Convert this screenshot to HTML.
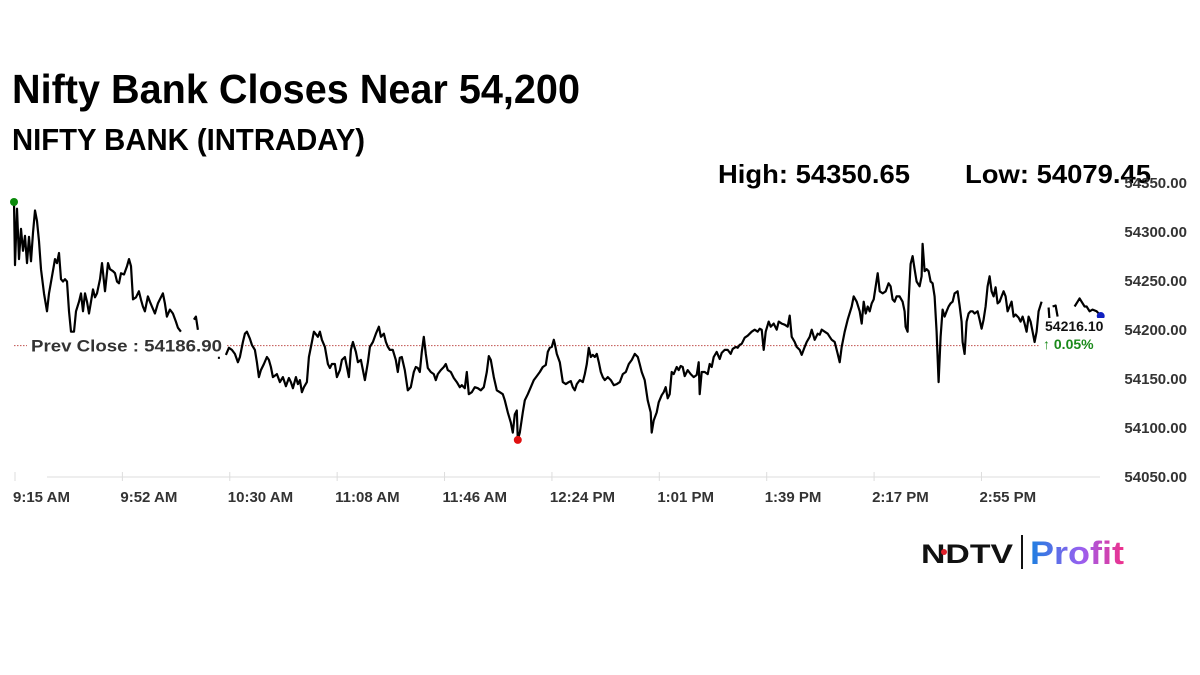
<!DOCTYPE html>
<html><head><meta charset="utf-8"><style>
html,body{margin:0;padding:0;background:#fff;}
svg{display:block;font-family:"Liberation Sans",sans-serif;}
</style></head><body>
<svg id="chart" width="1200" height="675" viewBox="0 0 1200 675" xmlns="http://www.w3.org/2000/svg">
<text x="12" y="103" font-size="41" font-weight="bold" textLength="568" lengthAdjust="spacingAndGlyphs">Nifty Bank Closes Near 54,200</text>
<text x="12" y="150" font-size="31" font-weight="bold" textLength="353" lengthAdjust="spacingAndGlyphs">NIFTY BANK (INTRADAY)</text>
<text x="718" y="183" font-size="26" font-weight="bold" textLength="192" lengthAdjust="spacingAndGlyphs">High: 54350.65</text>
<text x="965" y="183" font-size="26" font-weight="bold" textLength="186" lengthAdjust="spacingAndGlyphs">Low: 54079.45</text>
<g id="axes"></g>
<g id="plot"></g>
<g>
<text x="921" y="563" font-size="27" font-weight="bold" fill="#111" textLength="92" lengthAdjust="spacingAndGlyphs">NDTV</text>
<circle cx="944" cy="552" r="3" fill="#e0202a"/>
<rect x="1021" y="535" width="2" height="34" fill="#111"/>
<defs><linearGradient id="pg" x1="0" x2="1"><stop offset="0" stop-color="#1d7fe0"/><stop offset="0.55" stop-color="#9a5ff0"/><stop offset="1" stop-color="#f0308a"/></linearGradient></defs>
<text x="1030" y="564" font-size="32" font-weight="bold" fill="url(#pg)" textLength="94" lengthAdjust="spacingAndGlyphs">Profit</text>
</g>
</svg>
<script>
const timeTickLabels = ["9:15 AM","9:52 AM","10:30 AM","11:08 AM","11:46 AM","12:24 PM","1:01 PM","1:39 PM","2:17 PM","2:55 PM"];
const timeTickMinutes = [0,37.6,75.2,112.8,150.4,188,225.6,263.2,300.8,338.4];
const priceTickValues = [54350,54300,54250,54200,54150,54100,54050];
const priceTickLabels = ["54350.00","54300.00","54250.00","54200.00","54150.00","54100.00","54050.00"];
const prevClose = 54186.90;
const highValue = 54350.65;
const lowValue = 54079.45;
const lastValue = 54216.10;
const lastMinute = 380.5;
const changeLabel = "0.05%";
const seriesMinutes = [0,0.35,1.05,1.75,2.45,3.15,3.85,4.55,5.25,5.95,6.65,7.35,8.05,8.75,9.45,10.5,11.55,12.25,13.3,14.35,15.05,15.75,16.45,17.15,17.85,18.55,19.25,19.95,21,21.7,22.75,23.45,24.15,24.85,25.55,26.25,26.95,27.65,28.35,29.05,30.1,30.8,31.85,32.9,33.6,34.65,35.35,36.05,36.75,37.45,38.5,39.55,40.25,40.95,41.65,42.7,43.75,44.45,45.15,45.85,46.9,47.6,49.35,50.4,51.45,52.15,52.85,53.55,54.6,55.65,56.7,57.4,58.45,60,63,63.7,64.4,68,71.4,72.1,73,74.2,75.25,76.3,77.35,78.4,79.1,80.15,80.85,81.55,82.6,83.3,84.35,85.05,85.75,86.45,87.5,88.55,89.25,89.95,90.65,92.05,93.1,94.15,95.2,96.25,96.95,97.65,98.7,99.4,100.1,100.8,101.5,102.55,103.25,104.3,105,106.4,107.1,107.8,108.85,109.9,110.6,111.3,112.35,113.05,114.1,114.8,115.85,116.55,117.25,117.95,118.65,119.7,120.4,121.45,122.15,122.85,123.9,124.6,125.65,126.7,127.75,128.45,129.5,130.2,130.9,131.6,132.65,133.7,134.4,135.1,135.8,136.85,137.9,138.95,140,140.7,141.4,142.1,142.8,143.5,144.2,144.9,145.95,147,147.7,148.4,149.45,150.5,151.2,151.9,152.95,154,155.05,156.1,156.8,157.85,158.55,159.25,160.3,161.35,162.4,163.45,164.5,165.55,166.25,166.95,168,169.05,170.1,171.15,171.85,172.9,173.95,174.65,175.35,176.05,176.4,177.1,178.15,178.85,179.9,180.95,182,183.05,184.1,185.15,186.2,186.9,187.6,188.3,189,189.35,190.05,191.1,192.15,193.2,194.25,194.95,195.65,196.35,197.05,198.1,199.15,199.85,200.55,201.25,201.95,202.65,203.35,204.05,204.75,205.45,206.15,206.85,207.9,208.95,210,211.05,212.1,213.15,214.2,215.25,216.3,217.35,218.4,219.1,219.8,220.85,221.9,222.95,223.3,224,225.05,225.75,226.8,227.5,228.2,228.9,229.6,230.3,231,232.05,232.75,233.45,234.15,234.85,235.9,236.95,238,239.05,239.75,240.1,240.8,241.85,242.9,243.6,244.3,245,246.05,247.1,247.8,248.85,249.9,250.95,251.65,252.7,253.4,254.1,254.8,255.85,256.9,257.6,258.3,259.35,260.4,261.1,261.8,262.5,263.2,264.25,264.95,266,267.05,267.75,268.8,269.85,270.9,271.6,272.3,273.35,274.05,275.1,275.8,276.85,277.55,278.6,279.3,280.35,281.4,282.1,282.8,283.85,284.9,285.6,286.3,287.35,288.4,289.1,289.8,290.85,291.9,293.3,294,295.05,296.1,296.8,297.5,298.2,298.9,299.6,300.3,301,301.7,302.4,303.1,304.15,305.2,306.25,306.95,307.65,308.35,309.05,310.1,311.15,311.85,312.2,312.9,313.25,313.95,314.65,315.35,316.05,317.1,317.8,318.15,318.85,319.55,320.25,320.95,321.65,322.35,323.05,323.75,324.45,325.15,325.85,326.55,327.25,327.95,328.65,329.35,330.4,331.1,331.8,332.15,332.85,333.55,334.25,334.95,335.65,336.35,337.4,338.1,338.8,339.5,340.2,340.9,341.6,342.3,343,343.7,344.4,345.1,345.8,346.5,347.2,347.9,348.6,349.3,350,350.7,351.75,352.45,353.15,353.85,354.55,355.25,355.95,356.65,357.35,358.05,358.75,359.8,361,362.25,362.6,363.1,363.65,364.7,365.4,368,371.35,372.4,373.1,373.8,374.85,375.55,376.6,377.65,379.05,380.1];
const seriesValues = [54350.65,54278.7,54343,54285.6,54320,54295,54312,54281,54311,54283,54315.5,54341,54329,54306,54274,54246.5,54226,54246.5,54266,54285.6,54281,54292.5,54262.6,54260,54262.6,54260,54226,54202.8,54202.8,54226,54237,54246.5,54226,54246.5,54237,54223.5,54237,54251,54242,54246.5,54262.6,54281,54248.8,54281,54274,54271.8,54269.5,54260,54258,54269.5,54268,54277.5,54285.6,54277.5,54239.6,54242,54248.8,54239.6,54231.5,54226,54243,54237,54223.5,54235,54242,54246.5,54235,54220,54228,54223.5,54214.3,54207.4,54202.8,null,54216.6,54220,54205,null,54173,54173,null,54176.4,54184.4,54182,54177.5,54168,54174,54191,54200.5,54202.8,54194.8,54187.8,54182,54168,54151,54159,54166,54174,54170.6,54162.5,54151,54154.5,54145.3,54151,54140.7,54150,54145.3,54138.4,54151,54143,54147.6,54133.8,54139.5,54145.3,54174,54191,54202.8,54197,54202.8,54193.6,54185.5,54166,54161.4,54166,54166,54151,54159,54170.6,54174,54162.5,54151,54182,54191,54179.8,54168,54170.6,54159,54147.6,54168,54185.5,54191,54200.5,54208.5,54197,54200.5,54191,54185.5,54182,54182,54170.6,54156.8,54173,54174,54159,54136,54139.5,54156.8,54162.5,54161.4,54156.8,54179.8,54197,54177.5,54161.4,54156.8,54154.5,54147.6,54154.5,54159,54162.5,54166,54159,54156.8,54150,54145.3,54139.5,54141.8,54138.4,54156.8,54131.5,54133.8,54139.5,54138.4,54136,54139.5,54156.8,54175,54170.6,54151,54136,54133.8,54131.5,54124.6,54110.8,54099.3,54087.8,54108.5,54113,54079.45,54087.8,54110.8,54124.6,54131.5,54139.5,54147.6,54152.2,54156.8,54162.5,54164.8,54179.8,54184.4,54185.5,54193.6,54189,54177.5,54168,54145.3,54143,54145.3,54146.5,54139.5,54136,54143,54147.6,54145.3,54154.5,54166,54184.4,54174,54176.4,54174,54177.5,54168,54156.8,54151,54147.6,54151,54147.6,54141.8,54143,54145.3,54154.5,54156.8,54166,54170.6,54177.5,54174,54166,54156.8,54147.6,54124.6,54110.8,54087.8,54101.6,54110.8,54122.3,54130.4,54133.8,54139.5,54126.9,54131.5,54156.8,54154.5,54162.5,54159,54163.7,54162.5,54152.2,54159,54154.5,54151,54153.4,54168,54131.5,54156.8,54156.8,54154.5,54166,54162.5,54174,54179.8,54171.7,54178.6,54182,54182,54177.5,54183.2,54185.5,54184.4,54187.8,54189,54195.9,54198.2,54200.5,54202.8,54205.1,54202.8,54206.2,54205.1,54182,54202.8,54214.3,54208.5,54212,54205.1,54214.3,54212,54210.8,54208.5,54221.2,54197,54191,54185.5,54182,54176.4,54185.5,54191,54197,54205.1,54193.6,54200.5,54199.4,54205.1,54202.8,54200.5,54197,54193.6,54191,54177.5,54168,54185.5,54202.8,54216.6,54231.5,54243,54237,54226,54212,54237,54223.5,54231.5,54226,54235,54239.6,54254.5,54269.5,54248.8,54246.5,54248.8,54258,54254.5,54239.6,54237,54243,54243,54237,54226,54208.5,54202.8,54237,54280,54289,54274,54260,54254.5,54266,54303,54271.8,54274,54271.8,54260,54258,54243,54202.8,54145.3,54197,54228,54220,54226,54231.5,54235,54237,54246.5,54248.8,54232.7,54214.3,54191,54177.5,54214.3,54223.5,54226,54226,54223.5,54226,54216.6,54206.2,54216.6,54231.5,54254.5,54266,54248.8,54243,54253.4,54235,54237,54243,54248.8,54243,54226,54231.5,54237,54220,54222.4,54218.9,54214.3,54220,54212,54202.8,54220,54214.3,54202.8,54191,54202.8,54226,54237,null,54230.4,54214.3,null,54231.5,54232.7,54220,null,54231.5,54237,54240.8,54237,54231.5,54231.5,54226,54228,54226,54222.4];

const NS = "http://www.w3.org/2000/svg";
function xScale(m){ return 14 + m * 2.856; }
function yScale(v){ return 202 + (highValue - v) / 1.14; }
function yTickPos(v){ return 182 + (54350 - v) * 0.98; }
function mk(tag, attrs, parent){ const e=document.createElementNS(NS,tag); for(const k in attrs) e.setAttribute(k,attrs[k]); parent.appendChild(e); return e; }

const axes = document.getElementById('axes');
const plot = document.getElementById('plot');

const axisLine = mk('line',{x1:47,y1:477,x2:1100,y2:477,stroke:'#ddd','stroke-width':1},axes);



timeTickMinutes.forEach((m,i)=>{
  const x = xScale(m) + 1;
  const t = mk('line',{x1:x,y1:472,x2:x,y2:481,stroke:'#ddd','stroke-width':1},axes);
  
  
  const l = mk('text',{x:x-2,y:502,'font-size':15,'font-weight':'bold',fill:'#333'},axes);
  
  
  l.textContent = timeTickLabels[i];
});

priceTickValues.forEach((v,i)=>{
  const l = mk('text',{x:1187,y:yTickPos(v)+6,'font-size':15,'font-weight':'bold',fill:'#333','text-anchor':'end'},axes);
  
  
  l.textContent = priceTickLabels[i];
});

const py = yScale(prevClose);
const pl = mk('line',{x1:14,y1:py,x2:1040,y2:py,stroke:'#c0504d','stroke-width':1,'stroke-dasharray':'1.5,1.5'},plot);


const pbg = mk('rect',{x:27,y:py-10,width:199,height:20,fill:'#fff'},plot);


const pt = mk('text',{x:31,y:py+6,'font-size':17,'font-weight':'bold',fill:'#333',textLength:191,lengthAdjust:'spacingAndGlyphs'},plot);


pt.textContent = 'Prev Close : ' + prevClose.toFixed(2);

let d = ''; let pen = false;
for(let i=0;i<seriesMinutes.length;i++){
  const v = seriesValues[i];
  if(v===null){ pen=false; continue; }
  d += (pen?'L':'M') + xScale(seriesMinutes[i]).toFixed(1) + ',' + yScale(v).toFixed(1);
  pen = true;
}
const line = mk('path',{d:d,fill:'none',stroke:'#000','stroke-width':2.2,'stroke-linejoin':'round'},plot);



const hiIdx = seriesValues.indexOf(highValue);
const hd = mk('circle',{cx:xScale(seriesMinutes[hiIdx]),cy:yScale(highValue),r:4,fill:'#0a8a0a'},plot);


const loIdx = seriesValues.indexOf(lowValue);
const ld = mk('circle',{cx:xScale(seriesMinutes[loIdx]),cy:yScale(lowValue),r:4,fill:'#e01010'},plot);


const cd = mk('circle',{cx:xScale(lastMinute),cy:yScale(lastValue)-4,r:4,fill:'#1020c0'},plot);



const cbg = mk('rect',{x:1040,y:318,width:68,height:36,fill:'#fff'},plot);


const ct = mk('text',{x:1045,y:331,'font-size':14,'font-weight':'bold',fill:'#111'},plot);


ct.textContent = lastValue.toFixed(2);
const cg = mk('text',{x:1043,y:349,'font-size':14,'font-weight':'bold',fill:'#1a8a1a'},plot);


cg.textContent = '\u2191 ' + changeLabel;
</script>
</body></html>
